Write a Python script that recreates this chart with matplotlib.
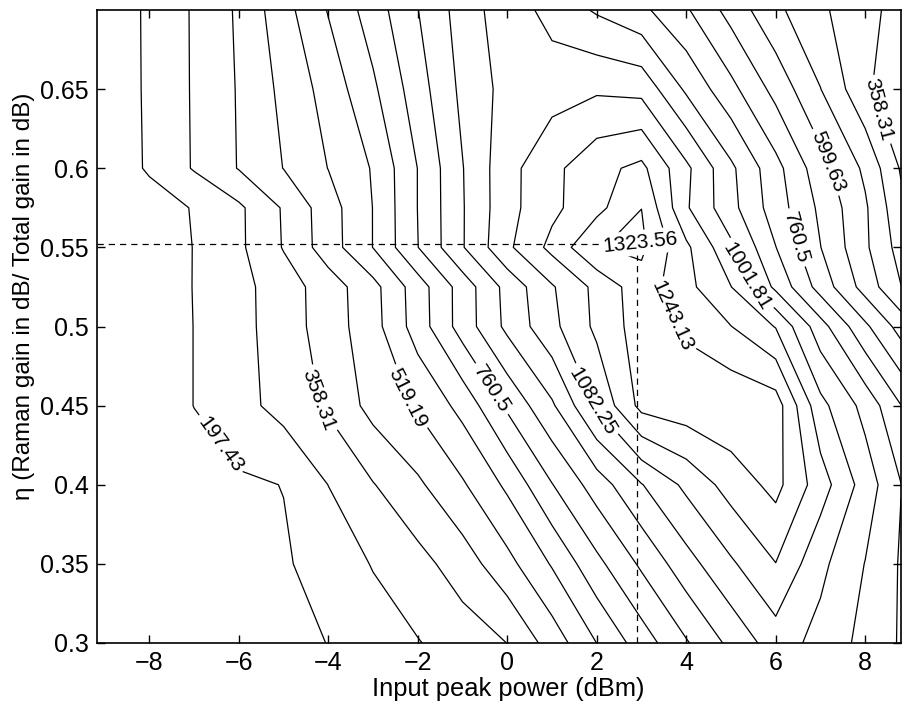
import matplotlib
matplotlib.use("Agg")
import matplotlib.pyplot as plt
import numpy as np

plt.rcParams["font.family"] = ["Liberation Sans", "DejaVu Sans"]

# grid: input peak power (dBm) along x, eta along y
power_dbm = [-9.17, -8, -7, -6, -5, -4, -3, -2, -1, 0, 1, 2, 3, 4, 5, 6, 7, 8, 8.8]
eta = [0.3, 0.35, 0.4, 0.45, 0.5, 0.525, 0.55, 0.575, 0.6, 0.65, 0.7]

# one row per eta value, bottom to top
z_rows = [
    [137.1, 149.2, 161.2, 173.3, 185.4, 198.2, 236.0, 273.8, 315.7, 359.1, 473.3, 600.4, 719.5, 832.9, 941.5, 1042.1, 975.3, 897.3, 832.9],
    [141.1, 153.2, 165.3, 177.3, 189.4, 226.4, 282.7, 331.0, 397.7, 493.5, 606.9, 738.8, 854.6, 969.7, 1070.2, 1161.1, 1021.9, 919.0, 832.9],
    [141.1, 157.2, 173.3, 185.4, 199.0, 278.7, 354.3, 425.1, 509.5, 615.7, 757.3, 879.6, 997.8, 1100.8, 1196.5, 1267.3, 1120.1, 965.6, 842.6],
    [141.1, 165.3, 198.2, 250.5, 306.0, 371.2, 466.1, 529.6, 625.4, 775.0, 909.3, 1093.5, 1267.3, 1291.4, 1307.5, 1283.4, 1026.0, 894.8, 762.1],
    [141.1, 165.3, 198.2, 252.1, 318.1, 396.9, 488.6, 637.4, 795.9, 940.7, 1060.6, 1180.4, 1283.4, 1231.1, 1164.3, 1078.2, 873.1, 696.2, 567.5],
    [137.1, 165.3, 199.0, 252.9, 319.7, 398.5, 493.5, 641.5, 795.9, 947.9, 1074.2, 1184.4, 1290.0, 1186.0, 1083.9, 903.7, 728.3, 567.5, 440.4],
    [133.1, 161.2, 199.0, 262.6, 363.1, 480.6, 601.2, 758.9, 915.8, 1066.2, 1185.2, 1320.0, 1340.0, 1178.8, 1017.9, 842.6, 681.7, 532.9, 406.6],
    [133.1, 161.2, 202.3, 263.4, 366.4, 483.8, 601.2, 762.1, 915.8, 1055.7, 1143.4, 1219.8, 1323.0, 1091.9, 946.3, 800.7, 664.0, 530.4, 378.4],
    [133.1, 207.1, 284.3, 362.3, 440.4, 520.8, 606.1, 762.1, 918.2, 1055.7, 1141.0, 1219.0, 1263.3, 1100.0, 937.5, 787.1, 631.8, 503.1, 350.0],
    [141.1, 207.9, 285.9, 364.8, 458.9, 550.6, 665.6, 804.8, 940.7, 1030.0, 1050.1, 1070.2, 1058.1, 907.7, 783.8, 653.5, 520.8, 375.0, 290.0],
    [141.1, 208.7, 286.7, 370.4, 489.4, 604.5, 720.3, 839.3, 956.8, 1050.1, 971.3, 911.7, 859.5, 770.2, 650.3, 536.9, 454.0, 378.4, 334.2],
]

contour_levels = [197.43, 277.87, 358.31, 438.75, 519.19, 599.63, 680.06, 760.5,
                  840.94, 921.38, 1001.81, 1082.25, 1162.69, 1243.13, 1323.56]

# labelled contours and where their labels sit
label_levels = [197.43, 358.31, 519.19, 760.5, 1082.25, 1243.13, 1001.81, 760.5, 599.63, 358.31]
label_spots = [(-6.15, 0.431), (-4.36, 0.453), (-2.4, 0.453), (-0.16, 0.464), (1.85, 0.452),
               (3.53, 0.505), (5.38, 0.532), (6.44, 0.556), (7.22, 0.605), (8.3, 0.637)]

# the innermost ring is labelled across its middle
peak_level = 1323.56
peak_spot = (2.97, 0.553)

# operating point marked with dashed guides
opt_power = 2.9
opt_eta = 0.552

x_ticks = [-8, -6, -4, -2, 0, 2, 4, 6, 8]
y_ticks = [0.3, 0.35, 0.4, 0.45, 0.5, 0.55, 0.6, 0.65]
y_ticklabels = ["0.3", "0.35", "0.4", "0.45", "0.5", "0.55", "0.6", "0.65"]

fig = plt.figure(figsize=(9.03, 7.06), dpi=100)
ax = fig.add_axes([97 / 903, 63 / 706, 804 / 903, 633 / 706])

X, Y = np.meshgrid(power_dbm, eta)
Z = np.array(z_rows)

# plain contours first, then each labelled level as its own set so the
# inline labels cut the right line
labelled = sorted(set(label_levels))
plain = [lev for lev in contour_levels if lev not in labelled]
ax.contour(X, Y, Z, levels=plain, colors="k", linewidths=0.9)
for lev in labelled:
    cs = ax.contour(X, Y, Z, levels=[lev], colors="k", linewidths=0.9)
    spots = [s for l, s in zip(label_levels, label_spots) if l == lev]
    ax.clabel(cs, manual=spots, fmt="%g", fontsize=15, inline=True, inline_spacing=4)

ax.plot([power_dbm[0], opt_power], [opt_eta, opt_eta], "k--", lw=0.9, dashes=(5, 4))
ax.plot([opt_power, opt_power], [eta[0], opt_eta - 0.006], "k--", lw=0.9, dashes=(5, 4))

ax.text(peak_spot[0], peak_spot[1], f"{peak_level:g}", fontsize=15, rotation=6,
        ha="center", va="center", zorder=5,
        bbox=dict(boxstyle="square,pad=0.15", fc="white", ec="none"))

ax.set_xlim(power_dbm[0], power_dbm[-1])
ax.set_ylim(eta[0], eta[-1])
ax.set_xticks(x_ticks)
ax.set_yticks(y_ticks)
ax.set_yticklabels(y_ticklabels)
ax.tick_params(direction="in", top=True, right=True, length=6, width=1,
               labelsize=18, pad=6)
for sp in ax.spines.values():
    sp.set_linewidth(1.2)

ax.set_xlabel("Input peak power (dBm)", fontsize=18.4)
ax.xaxis.set_label_coords(0.511, -0.054)
ax.set_ylabel("η (Raman gain in dB/ Total gain in dB)", fontsize=17.5)
ax.yaxis.set_label_coords(-0.077, 0.548)

fig.savefig("out.png", dpi=100)
